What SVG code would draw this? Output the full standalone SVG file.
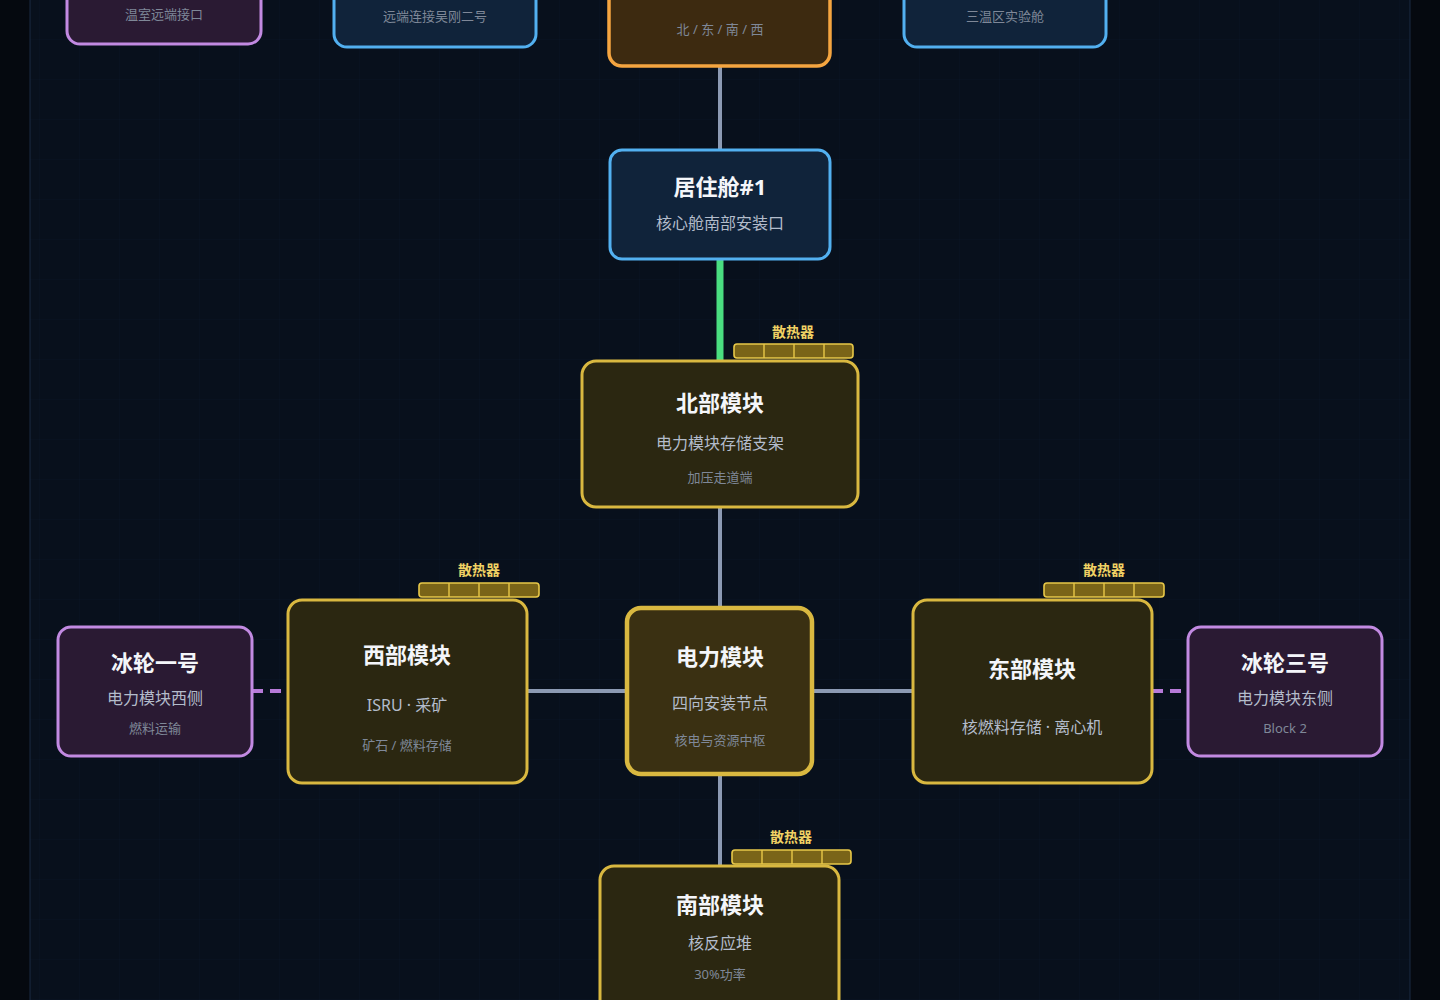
<svg xmlns="http://www.w3.org/2000/svg" width="1440" height="1000" viewBox="0 0 1440 1000">
<defs>
<pattern id="grid" width="40" height="40" patternUnits="userSpaceOnUse">
<path d="M40 0V40M0 40H40" fill="none" stroke="#13203a" stroke-width="1" opacity="0.22"/>
</pattern>
<style>
text{font-family:"Noto Sans","Noto Sans CJK SC",sans-serif;text-anchor:middle}
.t{font-size:22px;font-weight:700;fill:#f4f6fa}
.s{font-size:16px;fill:#b3bccb}
.m{font-size:13px;fill:#7f8898}
.rl{font-size:14px;font-weight:700;fill:#f0d264}
.gold{fill:#2b2711;stroke:#d9b840;stroke-width:3}
.core{fill:#3a3012;stroke:#d9b840;stroke-width:4.5}
.purp{fill:#2a1a33;stroke:#c28ae2;stroke-width:3}
.blue{fill:#10233a;stroke:#52b0f0;stroke-width:3}
.orng{fill:#3d2a10;stroke:#f5a540;stroke-width:3.5}
.rad{fill:#7a6418;stroke:#e8c848;stroke-width:1.6}
.cell{stroke:#e8c848;stroke-width:1.4}
.e{stroke:#8c9ab3;stroke-width:4;fill:none}
.eg{stroke:#4ade80;stroke-width:7;fill:none}
.ep{stroke:#b77ad8;stroke-width:4;stroke-dasharray:11 7;fill:none}
</style>
</defs>
<rect width="1440" height="1000" fill="#05090f"/>
<rect x="30" y="-10" width="1380" height="1020" fill="#08101c" stroke="#1a2a42" stroke-width="1"/>
<rect x="30" y="-10" width="1380" height="1020" fill="url(#grid)"/>

<g id="connectors">
<line class="e" x1="720" y1="67" x2="720" y2="149"/>
<line class="eg" x1="720" y1="260" x2="720" y2="360"/>
<line class="e" x1="720" y1="507" x2="720" y2="607"/>
<line class="e" x1="720" y1="775" x2="720" y2="866"/>
<line class="e" x1="527" y1="691" x2="627" y2="691"/>
<line class="e" x1="812" y1="691" x2="913" y2="691"/>
<line class="ep" x1="252" y1="691" x2="288" y2="691"/>
<line class="ep" x1="1152" y1="691" x2="1188" y2="691"/>
</g>

<g id="greenhouse">
<rect class="purp" x="67" y="-40" width="194" height="84" rx="13"/>
<text class="m" x="164" y="19">温室远端接口</text>
</g>
<g id="wugang2">
<rect class="blue" x="334" y="-40" width="202" height="87" rx="13"/>
<text class="m" x="435" y="21">远端连接吴刚二号</text>
</g>
<g id="hub-top">
<rect class="orng" x="609" y="-40" width="221" height="106" rx="13"/>
<text class="m" x="720" y="34">北 / 东 / 南 / 西</text>
</g>
<g id="lab3">
<rect class="blue" x="904" y="-40" width="202" height="87" rx="13"/>
<text class="m" x="1005" y="21">三温区实验舱</text>
</g>

<g id="hab1">
<rect class="blue" x="610" y="150" width="220" height="109" rx="12"/>
<text class="t" x="720" y="195">居住舱#1</text>
<text class="s" x="720" y="229">核心舱南部安装口</text>
</g>

<g id="north">
<rect class="gold" x="582" y="361" width="276" height="146" rx="14"/>
<text class="t" x="720" y="411">北部模块</text>
<text class="s" x="720" y="449">电力模块存储支架</text>
<text class="m" x="720" y="482">加压走道端</text>
<g id="north-radiator">
<text class="rl" x="793" y="337">散热器</text>
<rect class="rad" x="734" y="344" width="119" height="14" rx="3"/>
<path class="cell" d="M764 344V358M794 344V358M824 344V358"/>
</g>
</g>

<g id="center">
<rect class="core" x="627" y="608" width="185" height="166" rx="14"/>
<text class="t" x="720" y="665">电力模块</text>
<text class="s" x="720" y="709">四向安装节点</text>
<text class="m" x="720" y="745">核电与资源中枢</text>
</g>

<g id="west">
<rect class="gold" x="288" y="600" width="239" height="183" rx="14"/>
<text class="t" x="407" y="663">西部模块</text>
<text class="s" x="407" y="711">ISRU · 采矿</text>
<text class="m" x="407" y="750">矿石 / 燃料存储</text>
<g id="west-radiator">
<text class="rl" x="479" y="575">散热器</text>
<rect class="rad" x="419" y="583" width="120" height="14" rx="3"/>
<path class="cell" d="M449 583V597M479 583V597M509 583V597"/>
</g>
</g>

<g id="east">
<rect class="gold" x="913" y="600" width="239" height="183" rx="14"/>
<text class="t" x="1032" y="677">东部模块</text>
<text class="s" x="1032" y="733">核燃料存储 · 离心机</text>
<g id="east-radiator">
<text class="rl" x="1104" y="575">散热器</text>
<rect class="rad" x="1044" y="583" width="120" height="14" rx="3"/>
<path class="cell" d="M1074 583V597M1104 583V597M1134 583V597"/>
</g>
</g>

<g id="south">
<rect class="gold" x="600" y="866" width="239" height="160" rx="14"/>
<text class="t" x="720" y="913">南部模块</text>
<text class="s" x="720" y="949">核反应堆</text>
<text class="m" x="720" y="979">30%功率</text>
<g id="south-radiator">
<text class="rl" x="791" y="842">散热器</text>
<rect class="rad" x="732" y="850" width="119" height="14" rx="3"/>
<path class="cell" d="M762 850V864M792 850V864M822 850V864"/>
</g>
</g>

<g id="icewheel1">
<rect class="purp" x="58" y="627" width="194" height="129" rx="13"/>
<text class="t" x="155" y="671">冰轮一号</text>
<text class="s" x="155" y="704">电力模块西侧</text>
<text class="m" x="155" y="733">燃料运输</text>
</g>

<g id="icewheel3">
<rect class="purp" x="1188" y="627" width="194" height="129" rx="13"/>
<text class="t" x="1285" y="671">冰轮三号</text>
<text class="s" x="1285" y="704">电力模块东侧</text>
<text class="m" x="1285" y="733">Block 2</text>
</g>
</svg>
